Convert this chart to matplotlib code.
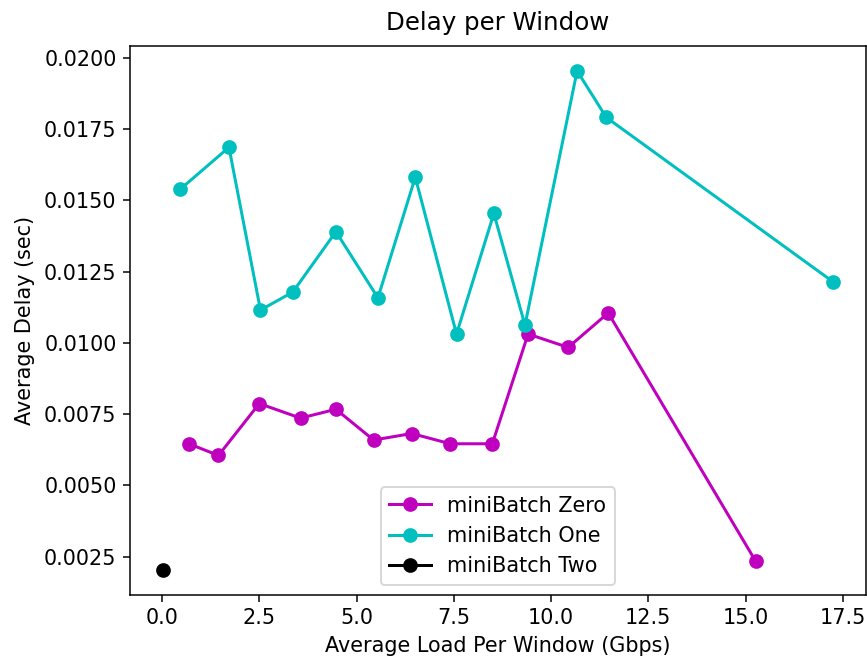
import matplotlib
matplotlib.use("Agg")
import matplotlib.pyplot as plt

# miniBatch Zero
carga_zero = [0.69, 1.45, 2.50, 3.56, 4.47, 5.44, 6.42, 7.41, 8.49, 9.41, 10.44, 11.47, 15.26]
atraso_zero = [0.00646, 0.00605, 0.00787, 0.00736, 0.00767, 0.00659, 0.00682, 0.00646,
               0.00646, 0.01031, 0.00984, 0.01105, 0.00234]

# miniBatch One
carga_one = [0.46, 1.72, 2.53, 3.36, 4.47, 5.55, 6.51, 7.57, 8.53, 9.33, 10.67, 11.42, 17.24]
atraso_one = [0.01538, 0.01686, 0.01115, 0.01178, 0.01390, 0.01158, 0.01581, 0.01031,
              0.01454, 0.01062, 0.01954, 0.01791, 0.01215]

# miniBatch Two
carga_two = [0.03]
atraso_two = [0.00203]

plt.rcParams['font.size'] = 11
plt.rcParams['lines.markersize'] = 6.8
plt.rcParams['lines.linewidth'] = 1.6

fig = plt.figure(figsize=(6.4, 4.886), dpi=135.5)
ax = fig.add_axes([0.1496, 0.1012, 0.8492, 0.8293])

ax.plot(carga_zero, atraso_zero, 'mo-', label='miniBatch Zero')
ax.plot(carga_one, atraso_one, 'co-', label='miniBatch One')
ax.plot(carga_two, atraso_two, 'ko-', label='miniBatch Two')

ax.set_title("Delay per Window", fontsize=13, pad=8.5)
ax.set_xlabel("Average Load Per Window (Gbps)")
ax.set_ylabel("Average Delay (sec)", labelpad=5)
ax.legend(loc='lower center')

fig.savefig("out.png", dpi=135.5)
